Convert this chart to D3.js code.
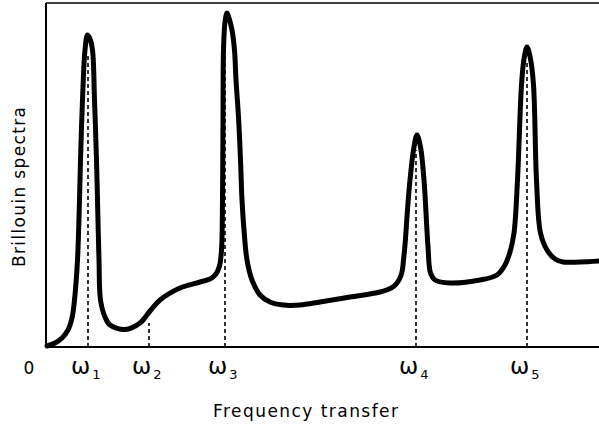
<!DOCTYPE html>
<html><head><meta charset="utf-8">
<script src="https://cdn.jsdelivr.net/npm/d3@7"></script>
<style>body{margin:0;background:#fff}svg{display:block}text{font-family:"DejaVu Sans",sans-serif;fill:#000}</style>
</head><body>
<script>
// Frequency (arbitrary units) and Brillouin intensity (arbitrary units)
const freq = [1,9,16,22,26,28.5,31.5,33.5,34.5,36.5,39,41.5,44,46.5,48.5,50.5,51.5,53,54.5,59,64,79,94,104,114,134,154,164,170,173.5,175.5,176.5,177,177.5,179,181,183,186,188.5,190,192.5,194.5,196,198,201,206,214,224,237,254,274,304,334,347,353,356,357.5,359,361.5,364,368,371,374.5,378,382,384.5,389,404,434,451,459,464,468,471.5,475.5,478,481,484.5,487.5,490.5,494.5,501,509,517,534,553];
const intensity = [1,4,9,17,29,47,87,147,187,247,297,312,308,297,247,187,147,87,47,30,22,17.5,24,36,47,59,65,68,73,81,97,147,227,297,325,334,329,317,297,267,230,187,147,117,87,67,52,45,42,42,45,50,55,60,67,75,87,102,137,167,200,212,200,167,100,74,67,64,67,72,82,95,114,167,262,288,300,288,262,167,114,97,88,85,85,86];
const peakLabels = ["1","2","3","4","5"];
const peakFreq = [42,103,179,370,481];
const peakTop = [292,24,307,197,287];
const xMax = 553, yMax = 344;

const W = 599, H = 424;
const svg = d3.select("body").append("svg").attr("width", W).attr("height", H);
const x = d3.scaleLinear().domain([0, xMax]).range([46, 599]);
const y = d3.scaleLinear().domain([0, yMax]).range([347, 3]);

// frame
svg.append("line").attr("x1", x(0)).attr("x2", x(0)).attr("y1", y(yMax)).attr("y2", y(0)).attr("stroke", "#000").attr("stroke-width", 2);
svg.append("line").attr("x1", x(0)).attr("x2", x(xMax)).attr("y1", y(0)).attr("y2", y(0)).attr("stroke", "#000").attr("stroke-width", 2);
svg.append("line").attr("x1", x(0)).attr("x2", x(xMax)).attr("y1", y(yMax)).attr("y2", y(yMax)).attr("stroke", "#000").attr("stroke-width", 1.5);

// dashed markers
svg.selectAll("line.mark").data(peakFreq).enter().append("line").attr("class", "mark")
  .attr("x1", d => x(d)).attr("x2", d => x(d))
  .attr("y1", y(0)).attr("y2", (d, i) => y(peakTop[i]))
  .attr("stroke", "#000").attr("stroke-width", 1.6).attr("stroke-dasharray", "4,3");

// spectrum
const pts = freq.map((f, i) => [f, intensity[i]]);
const line = d3.line().x(d => x(d[0])).y(d => y(d[1])).curve(d3.curveCatmullRom.alpha(0.5));
svg.append("path").attr("d", line(pts)).attr("fill", "none").attr("stroke", "#000")
  .attr("stroke-width", 5).attr("stroke-linejoin", "round").attr("stroke-linecap", "round");

// tick labels
svg.append("text").attr("x", 29).attr("y", 374).attr("text-anchor", "middle").attr("font-size", 17).text("0");
const lab = svg.selectAll("text.om").data(peakFreq).enter().append("text").attr("class", "om")
  .attr("x", d => x(d) - 17).attr("y", 374).attr("font-size", 23);
lab.append("tspan").text("ω");
lab.append("tspan").attr("font-size", 13).attr("dy", 5).attr("dx", 2).text((d, i) => peakLabels[i]);

// axis titles
svg.append("text").attr("x", 213).attr("y", 417).attr("font-size", 17)
  .attr("textLength", 185).attr("lengthAdjust", "spacing").text("Frequency transfer");
svg.append("text").attr("transform", "translate(25,267) rotate(-90)").attr("font-size", 17)
  .attr("textLength", 160).attr("lengthAdjust", "spacing").text("Brillouin spectra");
</script>
</body></html>
